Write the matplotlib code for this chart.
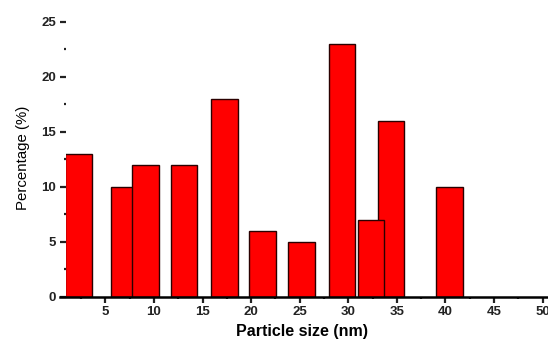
import matplotlib
matplotlib.use("Agg")
import matplotlib.pyplot as plt
from matplotlib.ticker import MultipleLocator

# Data (particle size bin centres in nm, percentage)
sizes = [2.2, 7.0, 9.1, 13.1, 17.25, 21.2, 25.2, 29.35, 34.4, 32.35, 40.4]
percent = [13, 10, 12, 12, 18, 6, 5, 23, 16, 7, 10]
x_ticks = [5, 10, 15, 20, 25, 30, 35, 40, 45, 50]
y_ticks = [0, 5, 10, 15, 20, 25]

plt.rcParams['font.family'] = ['Liberation Sans', 'DejaVu Sans']

W, H = 548, 340
fig = plt.figure(figsize=(W / 100, H / 100), dpi=100)
left_px, right_px, bottom_px, top_px = 66, 548, 296.7, 21.7
ax = fig.add_axes([left_px / W, 1 - bottom_px / H,
                   (right_px - left_px) / W, (bottom_px - top_px) / H])

bar_width = 2.75
ax.bar(sizes, percent, width=bar_width, color='#ff0000',
       edgecolor='#2a0000', linewidth=1.0, zorder=2)

x_left = 0.95
ax.set_xlim(x_left, 50.55)
ax.set_ylim(0, 25)

for s in ['top', 'right', 'left']:
    ax.spines[s].set_visible(False)
ax.spines['bottom'].set_linewidth(1.8)
ax.spines['bottom'].set_bounds(x_left - 6 / 9.72, 50.55)

ax.set_xticks(x_ticks)
ax.set_yticks(y_ticks)
ax.xaxis.set_minor_locator(MultipleLocator(2.5))
ax.yaxis.set_minor_locator(MultipleLocator(2.5))

ax.tick_params(axis='both', which='major', direction='out', length=4.3,
               width=1.6, labelsize=9.5, colors='#222222')
ax.tick_params(axis='both', which='minor', direction='out', length=1.4,
               width=1.6, colors='#222222')
ax.tick_params(axis='y', which='major', pad=3)
ax.tick_params(axis='x', which='major', pad=2.5)
for lab in ax.get_xticklabels() + ax.get_yticklabels():
    lab.set_fontweight('bold')

ax.set_xlabel('Particle size (nm)', fontsize=11.5, fontweight='bold', labelpad=4)
ax.xaxis.label.set_x((302 - left_px) / (right_px - left_px))
ax.set_ylabel('Percentage (%)', fontsize=10.8)
ax.yaxis.set_label_coords(-(66 - 16) / (right_px - left_px), 0.505)
ax.yaxis.label.set_verticalalignment('top')

fig.savefig('out.png', dpi=100)
